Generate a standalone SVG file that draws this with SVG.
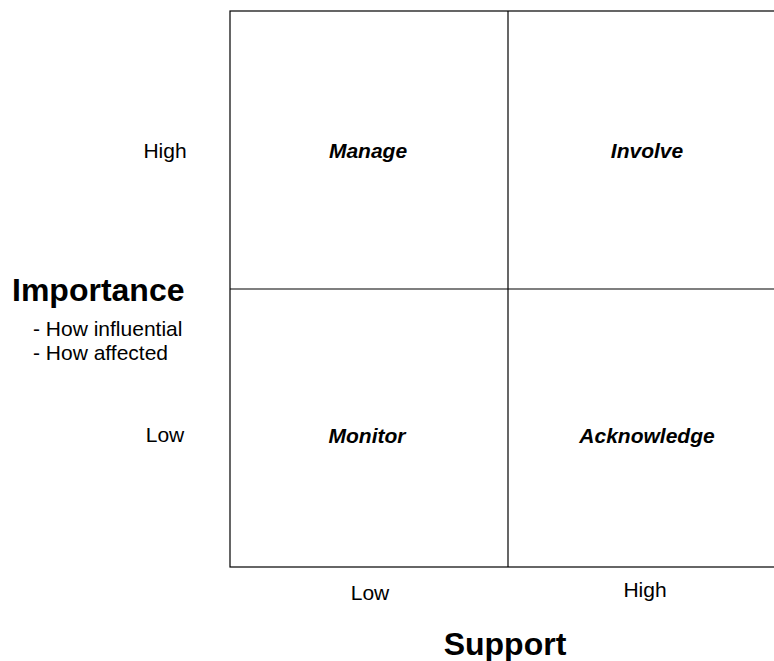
<svg xmlns="http://www.w3.org/2000/svg" width="774" height="661" viewBox="0 0 774 661">
<style>
.t{font-family:"Liberation Sans",Arial,sans-serif;font-size:21px;fill:#000}
.q{font-family:"Liberation Sans",Arial,sans-serif;font-size:21px;font-weight:bold;font-style:italic;fill:#000;text-anchor:middle}
.h{font-family:"Liberation Sans",Arial,sans-serif;font-size:32px;font-weight:bold;fill:#000}
.ln{stroke:#000;stroke-width:1.2;fill:none}
</style>
<rect width="774" height="661" fill="#fff"/>
<g id="connectors">
<rect class="ln" x="230" y="11" width="556" height="556"/>
<line class="ln" x1="508" y1="11" x2="508" y2="567"/>
<line class="ln" x1="230" y1="289" x2="786" y2="289"/>
</g>
<g id="manage"><text class="q" x="368" y="158">Manage</text></g>
<g id="involve"><text class="q" x="647" y="158">Involve</text></g>
<g id="monitor"><text class="q" x="367" y="443">Monitor</text></g>
<g id="acknowledge"><text class="q" x="647" y="443">Acknowledge</text></g>
<g id="y-axis">
<text class="t" x="165" y="158" text-anchor="middle">High</text>
<text class="t" x="165" y="442" text-anchor="middle">Low</text>
<text class="h" x="12" y="301">Importance</text>
<text class="t" x="33" y="336">- How influential</text>
<text class="t" x="33" y="360">- How affected</text>
</g>
<g id="x-axis">
<text class="t" x="370" y="600" text-anchor="middle">Low</text>
<text class="t" x="645" y="597" text-anchor="middle">High</text>
<text class="h" x="505" y="655" text-anchor="middle">Support</text>
</g>
</svg>
